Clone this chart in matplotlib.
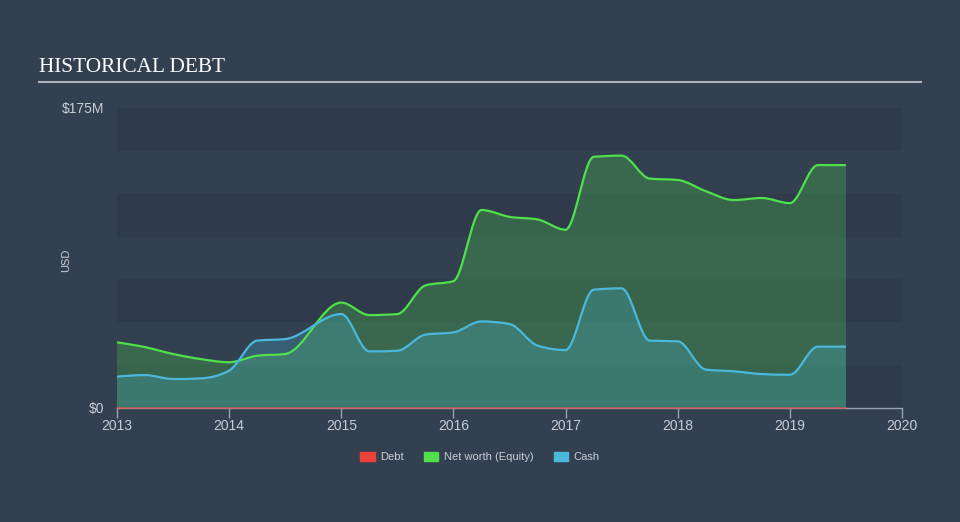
import matplotlib.pyplot as plt
import numpy as np
from matplotlib.path import Path
from matplotlib.patches import PathPatch, Patch
from matplotlib.lines import Line2D

# quarterly values in $M
dates = [2013.0, 2013.25, 2013.5, 2013.75, 2014.0, 2014.25, 2014.5, 2015.0,
         2015.25, 2015.5, 2015.75, 2016.0, 2016.25, 2016.5, 2016.75, 2017.0,
         2017.25, 2017.5, 2017.75, 2018.0, 2018.25, 2018.5, 2018.75, 2019.0,
         2019.25, 2019.5]
net_worth = [38.3, 35.5, 31.5, 28.5, 26.7, 30.5, 31.5, 61.5,
             54.2, 54.8, 71.5, 74.0, 115.5, 111.5, 110.0, 104.0,
             146.5, 147.2, 133.8, 133.0, 126.5, 121.3, 122.5, 119.5,
             141.7, 141.7]
cash = [18.3, 19.2, 16.9, 17.3, 21.8, 39.3, 40.2, 54.8,
        33.0, 33.4, 42.8, 44.1, 50.5, 49.0, 36.4, 33.8,
        69.0, 69.8, 39.3, 38.9, 22.4, 21.4, 19.8, 19.4,
        35.8, 35.8]
debt = [0.0] * len(dates)

years = [2013, 2014, 2015, 2016, 2017, 2018, 2019, 2020]

bg = "#334050"
band_dark = "#2f3b4a"
green = "#4fe04c"
blue = "#4ab8dc"
red = "#e8423a"
text_col = "#c9ced5"


def monotone_path(x, y, close=False):
    # smooth monotone curve through the points (same look as the web chart)
    x = np.asarray(x, float)
    y = np.asarray(y, float)
    h = np.diff(x)
    s = np.diff(y) / h
    m = np.zeros(len(x))
    for i in range(1, len(x) - 1):
        p = (s[i - 1] * h[i] + s[i] * h[i - 1]) / (h[i - 1] + h[i])
        m[i] = (np.sign(s[i - 1]) + np.sign(s[i])) * min(abs(s[i - 1]), abs(s[i]), 0.5 * abs(p))
    m[0] = (3 * s[0] - m[1]) / 2
    m[-1] = (3 * s[-1] - m[-2]) / 2
    verts = [(x[0], y[0])]
    codes = [Path.MOVETO]
    for i in range(len(x) - 1):
        d = h[i] / 3
        verts += [(x[i] + d, y[i] + m[i] * d), (x[i + 1] - d, y[i + 1] - m[i + 1] * d), (x[i + 1], y[i + 1])]
        codes += [Path.CURVE4] * 3
    if close:
        verts += [(x[-1], 0), (x[0], 0), (x[0], 0)]
        codes += [Path.LINETO, Path.LINETO, Path.CLOSEPOLY]
    return Path(verts, codes)


fig = plt.figure(figsize=(9.6, 5.22), dpi=100, facecolor=bg)
ax = fig.add_axes([117 / 960, 1 - 408 / 522, 785 / 960, 300 / 522])
ax.set_facecolor(bg)
ax.set_xlim(2013, 2020)
ax.set_ylim(0, 175)

# horizontal stripes
for k in range(0, 7, 2):
    ax.axhspan(k * 25, (k + 1) * 25, color=band_dark, lw=0, zorder=0)

ax.add_patch(PathPatch(monotone_path(dates, net_worth, True), fc=green, alpha=0.25, lw=0, zorder=2))
ax.add_patch(PathPatch(monotone_path(dates, cash, True), fc=blue, alpha=0.25, lw=0, zorder=3))
ax.add_patch(PathPatch(monotone_path(dates, net_worth), fc="none", ec=green, lw=1.6, zorder=4))
ax.add_patch(PathPatch(monotone_path(dates, cash), fc="none", ec=blue, lw=1.6, zorder=5))
ax.plot(dates, debt, color=red, lw=1.2, alpha=0.7, zorder=6, clip_on=False)

for side in ["top", "right", "left"]:
    ax.spines[side].set_visible(False)
ax.spines["bottom"].set_color("#9aa3ad")
ax.spines["bottom"].set_linewidth(1)

ax.set_xticks(years)
ax.set_xticklabels([str(y) for y in years])
ax.set_yticks([0, 175])
ax.set_yticklabels(["$0", "$175M"])
ax.tick_params(axis="x", colors="#9aa3ad", length=7, width=1, pad=1,
               labelcolor=text_col, labelsize=10)
ax.tick_params(axis="y", length=0, pad=9, labelcolor=text_col, labelsize=10)
for lab in ax.get_xticklabels() + ax.get_yticklabels():
    lab.set_fontfamily("Liberation Sans")

fig.text(39 / 960, 1 - 67 / 522, "HISTORICAL DEBT", family="Liberation Serif",
         fontsize=15.3, color="white", va="center", ha="left")
fig.add_artist(Line2D([39 / 960, 921 / 960], [1 - 82 / 522, 1 - 82 / 522],
                      color="#a9b0b8", lw=1.5))
fig.text(66 / 960, 1 - 260 / 522, "USD", rotation=90, family="Liberation Sans",
         fontsize=8, color=text_col, va="center", ha="center")

handles = [Patch(color=red, label="Debt"),
           Patch(color=green, label="Net worth (Equity)"),
           Patch(color=blue, label="Cash")]
leg = fig.legend(handles=handles, loc="center", bbox_to_anchor=(0.5, 1 - 457 / 522),
                 ncol=3, frameon=False, handlelength=1.3, handleheight=0.9,
                 handletextpad=0.5, columnspacing=1.8,
                 prop={"family": "Liberation Sans", "size": 8})
for t in leg.get_texts():
    t.set_color(text_col)

fig.savefig("out.png", dpi=100, facecolor=bg)
